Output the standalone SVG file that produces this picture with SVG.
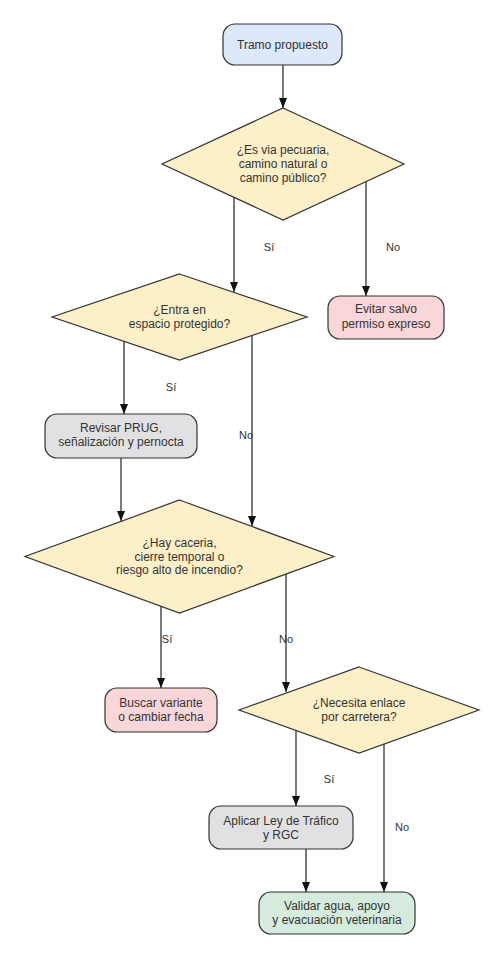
<svg xmlns="http://www.w3.org/2000/svg" width="504" height="960" viewBox="0 0 504 960">
<style>
.n{stroke:#333;stroke-width:1.2}
.start{fill:#dde8fb}
.dec{fill:#fdefc8}
.bad{fill:#f8d6da}
.act{fill:#e1e1e3}
.end{fill:#d5ebde}
text{font-family:"Liberation Sans",Arial,sans-serif;font-size:12px;fill:#333;text-anchor:middle}
.lbl{font-size:11px}
.e{stroke:#222;stroke-width:1.2;fill:none;marker-end:url(#ah)}
</style>
<defs>
<marker id="ah" markerUnits="userSpaceOnUse" viewBox="0 0 10 8" markerWidth="10" markerHeight="8" refX="10" refY="4" orient="auto">
<path d="M0,0 L10,4 L0,8 z" fill="#111"/>
</marker>
</defs>
<rect width="504" height="960" fill="#fff"/>
<g id="connectors">
<line class="e" x1="283" y1="65" x2="283" y2="108"/>
<line class="e" x1="234" y1="197" x2="234" y2="292"/>
<line class="e" x1="366" y1="182" x2="366" y2="296"/>
<line class="e" x1="124" y1="341" x2="124" y2="414"/>
<line class="e" x1="252" y1="336" x2="252" y2="526"/>
<line class="e" x1="121" y1="458" x2="121" y2="521"/>
<line class="e" x1="161" y1="606" x2="161" y2="688"/>
<line class="e" x1="286" y1="574" x2="286" y2="692"/>
<line class="e" x1="296" y1="730" x2="296" y2="806"/>
<line class="e" x1="384" y1="744" x2="384" y2="892"/>
<line class="e" x1="306" y1="849" x2="306" y2="892"/>
<text class="lbl" x="269" y="251">Sí</text>
<text class="lbl" x="393" y="251">No</text>
<text class="lbl" x="171" y="391">Sí</text>
<text class="lbl" x="246" y="439">No</text>
<text class="lbl" x="167" y="643">Sí</text>
<text class="lbl" x="286" y="643">No</text>
<text class="lbl" x="329" y="783">Sí</text>
<text class="lbl" x="402" y="831">No</text>
</g>
<g id="n1">
<rect class="n start" x="223" y="24" width="119" height="41" rx="12"/>
<text x="282.5" y="48.5">Tramo propuesto</text>
</g>
<g id="d1">
<polygon class="n dec" points="283,108 404,164 283,220 162,164"/>
<text x="283" y="154">¿Es via pecuaria,</text>
<text x="283" y="168">camino natural o</text>
<text x="283" y="181.5">camino público?</text>
</g>
<g id="n2">
<rect class="n bad" x="328" y="296" width="116" height="43" rx="12"/>
<text x="386" y="313">Evitar salvo</text>
<text x="386" y="328">permiso expreso</text>
</g>
<g id="d2">
<polygon class="n dec" points="179.5,274 307,317 179.5,360 52,317"/>
<text x="179.5" y="313.5">¿Entra en</text>
<text x="179.5" y="327.5">espacio protegido?</text>
</g>
<g id="n3">
<rect class="n act" x="45" y="414" width="152" height="44" rx="12"/>
<text x="121" y="432">Revisar PRUG,</text>
<text x="121" y="446">señalización y pernocta</text>
</g>
<g id="d3">
<polygon class="n dec" points="179.5,500 334,556.5 179.5,613 25,556.5"/>
<text x="179.5" y="547">¿Hay caceria,</text>
<text x="179.5" y="560.5">cierre temporal o</text>
<text x="179.5" y="574">riesgo alto de incendio?</text>
</g>
<g id="n4">
<rect class="n bad" x="105" y="688" width="112" height="44" rx="12"/>
<text x="161" y="707">Buscar variante</text>
<text x="161" y="720.5">o cambiar fecha</text>
</g>
<g id="d4">
<polygon class="n dec" points="359,667 479,710 359,753 239,710"/>
<text x="359" y="706.5">¿Necesita enlace</text>
<text x="359" y="720.5">por carretera?</text>
</g>
<g id="n5">
<rect class="n act" x="209" y="806" width="144" height="43" rx="12"/>
<text x="281" y="825">Aplicar Ley de Tráfico</text>
<text x="281" y="839">y RGC</text>
</g>
<g id="n6">
<rect class="n end" x="259" y="892" width="156" height="42" rx="12"/>
<text x="337" y="910">Validar agua, apoyo</text>
<text x="337" y="923.5">y evacuación veterinaria</text>
</g>
</svg>
